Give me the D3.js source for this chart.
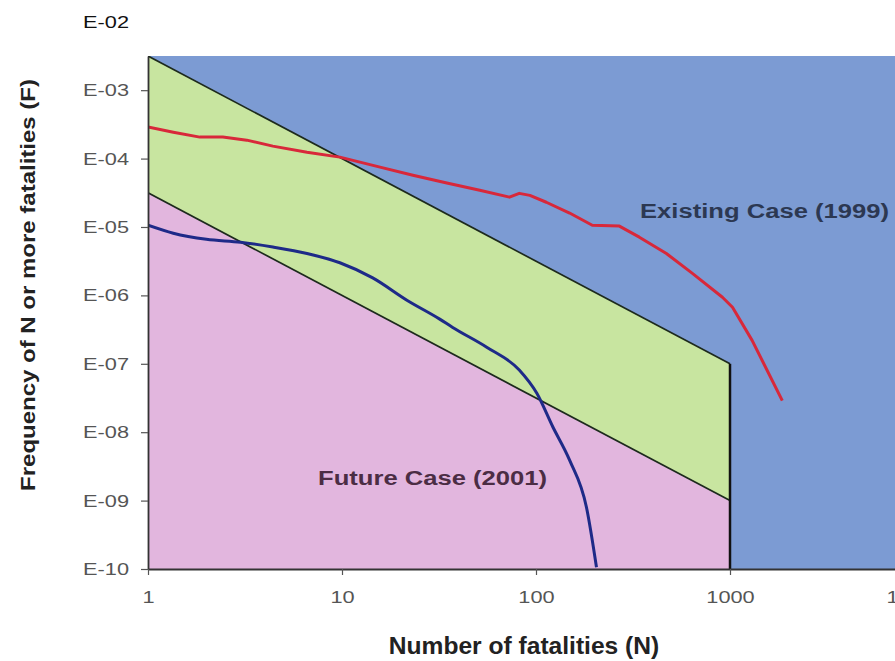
<!DOCTYPE html>
<html>
<head>
<meta charset="utf-8">
<script src="https://cdn.jsdelivr.net/npm/d3@7"></script>
<style>
	body { margin: 0; background: #fff; }
	#chart text { font-family: "Liberation Sans", Arial, sans-serif; }
	.tick text { font-size: 17px; fill: #555; }
	.tick line { stroke: #555; stroke-width: 1.2; }
	.axis .domain { stroke: #333; stroke-width: 1.8; }
	.crit { fill: none; stroke: #1d2a1d; stroke-width: 1.7; }
	.limit { stroke: #111; stroke-width: 2.5; }
	.line { fill: none; stroke-width: 3; stroke-linejoin: round; }
	.existing { stroke: #d8283a; }
	.future { stroke: #1e2a88; }
	.case-label { font-weight: bold; }
	.title { font-weight: bold; fill: #222; }
</style>
</head>
<body>
<div id="chart"></div>
<script>
// tick values on both axes
var nTicks = [1, 10, 100, 1000, 10000];
var fTicks = [1e-2, 1e-3, 1e-4, 1e-5, 1e-6, 1e-7, 1e-8, 1e-9, 1e-10];
var fLabels = ['E-02', 'E-03', 'E-04', 'E-05', 'E-06', 'E-07', 'E-08', 'E-09', 'E-10'];

// criterion lines (upper / lower bound of the ALARP band), N = 1 .. 1000
var critN = [1, 1000];
var upperF = [3.16e-3, 1e-7];
var lowerF = [3.16e-5, 1e-9];

// Existing Case (1999)
var existingN = [1, 1.35, 1.85, 2.43, 3.23, 4.4, 6.6, 9.75, 15.7, 23.2, 34.7, 51.3, 73, 82, 93, 113, 149, 195, 269, 341, 470, 640, 914, 1030, 1300, 1860];
var existingF = [2.9e-4, 2.43e-4, 2.06e-4, 2.06e-4, 1.86e-4, 1.52e-4, 1.24e-4, 1.05e-4, 7.5e-5, 5.7e-5, 4.4e-5, 3.45e-5, 2.73e-5, 3.1e-5, 2.9e-5, 2.3e-5, 1.6e-5, 1.06e-5, 1.03e-5, 7.1e-6, 4.1e-6, 2.1e-6, 9.4e-7, 6.7e-7, 2.2e-7, 2.9e-8];

// Future Case (2001)
var futureN = [1, 1.35, 2.0, 3.0, 4.4, 6.6, 9.75, 14.4, 21.6, 31.9, 37.2, 55.7, 82, 101, 122, 149, 182, 205];
var futureF = [1.06e-5, 8.1e-6, 6.6e-6, 6.0e-6, 5.1e-6, 4.1e-6, 3.0e-6, 1.8e-6, 8.5e-7, 4.5e-7, 3.4e-7, 1.75e-7, 8.1e-8, 3.7e-8, 1.2e-8, 3.9e-9, 8e-10, 1.06e-10];

var w = 895, h = 661;
var sx = 1.28; // the scan is stretched sideways

var x = d3.scaleLog().domain([1, 10000]).range([148, 924]);
var y = d3.scaleLog().domain([1e-10, 3.16e-3]).range([569, 56]);

var zip = function(ns, fs) { return ns.map(function(n, i) { return [n, fs[i]]; }); };

var svg = d3.select('#chart')
	.append('svg')
		.attr('width', w)
		.attr('height', h);

svg.append('clipPath')
	.attr('id', 'plot-clip')
	.append('rect')
		.attr('x', x(1))
		.attr('y', y.range()[1])
		.attr('width', w - x(1))
		.attr('height', y.range()[0] - y.range()[1]);

var plot = svg.append('g').attr('clip-path', 'url(#plot-clip)');

// unacceptable region (everything)
plot.append('rect')
	.attr('x', x(1))
	.attr('y', y.range()[1])
	.attr('width', w - x(1))
	.attr('height', y.range()[0] - y.range()[1])
	.attr('fill', '#7c9bd3');

var band = critN.map(function(n, i) { return { n: n, hi: upperF[i], lo: lowerF[i] }; });

// ALARP band
plot.append('path')
	.attr('fill', '#c8e5a0')
	.attr('d', d3.area()
		.x(function(d) { return x(d.n); })
		.y0(function(d) { return y(d.lo); })
		.y1(function(d) { return y(d.hi); })(band));

// acceptable region
plot.append('path')
	.attr('fill', '#e2b6de')
	.attr('d', d3.area()
		.x(function(d) { return x(d.n); })
		.y0(y(1e-10))
		.y1(function(d) { return y(d.lo); })(band));

var line = d3.line()
	.x(function(d) { return x(d[0]); })
	.y(function(d) { return y(d[1]); });

var smooth = d3.line()
	.x(function(d) { return x(d[0]); })
	.y(function(d) { return y(d[1]); })
	.curve(d3.curveMonotoneX);

plot.append('path').attr('class', 'crit').attr('d', line(zip(critN, upperF)));
plot.append('path').attr('class', 'crit').attr('d', line(zip(critN, lowerF)));

plot.append('line')
	.attr('class', 'limit')
	.attr('x1', x(1000)).attr('x2', x(1000))
	.attr('y1', y(upperF[1])).attr('y2', y(1e-10));

plot.append('path')
	.attr('class', 'line existing')
	.attr('d', line(zip(existingN, existingF)));

plot.append('path')
	.attr('class', 'line future')
	.attr('d', smooth(zip(futureN, futureF)));

// axes
var yAxis = svg.append('g')
	.attr('class', 'y axis')
	.attr('transform', 'translate(' + x(1) + ',0)')
	.call(d3.axisLeft(y)
		.tickValues(fTicks)
		.tickFormat(function(d, i) { return fLabels[i]; })
		.tickSize(7)
		.tickSizeOuter(0)
		.tickPadding(12));

yAxis.selectAll('.tick text')
	.attr('x', -19 / sx)
	.attr('transform', 'scale(' + sx + ',1)');
yAxis.selectAll('.tick')
	.filter(function(d) { return d === 1e-2; })
	.call(function(t) {
		t.select('line').remove();
		t.select('text').style('fill', '#111');
	});

var xAxis = svg.append('g')
	.attr('class', 'x axis')
	.attr('transform', 'translate(0,' + y(1e-10) + ')')
	.call(d3.axisBottom(x)
		.tickValues(nTicks)
		.tickFormat(d3.format('d'))
		.tickSize(6)
		.tickSizeOuter(0)
		.tickPadding(16));

xAxis.selectAll('.tick text').attr('transform', 'scale(' + sx + ',1)');
// last label only peeks in at the right edge, as on the scan
xAxis.selectAll('.tick')
	.filter(function(d) { return d === 10000; })
	.select('text')
		.attr('x', -6);

// labels
svg.append('text')
	.attr('class', 'case-label')
	.attr('transform', 'translate(640,218) scale(' + sx + ',1)')
	.style('font-size', '20px')
	.style('fill', '#2c3852')
	.text('Existing Case (1999)');

svg.append('text')
	.attr('class', 'case-label')
	.attr('transform', 'translate(318,485) scale(' + sx + ',1)')
	.style('font-size', '20px')
	.style('fill', '#4b2d44')
	.text('Future Case (2001)');

svg.append('text')
	.attr('class', 'title')
	.attr('text-anchor', 'middle')
	.attr('transform', 'translate(524,654) scale(1.07,1)')
	.style('font-size', '23px')
	.text('Number of fatalities (N)');

svg.append('text')
	.attr('class', 'title')
	.attr('text-anchor', 'middle')
	.attr('transform', 'translate(35,285) rotate(-90) scale(1.2,1)')
	.style('font-size', '20px')
	.text('Frequency of N or more fatalities (F)');
</script>
</body>
</html>
